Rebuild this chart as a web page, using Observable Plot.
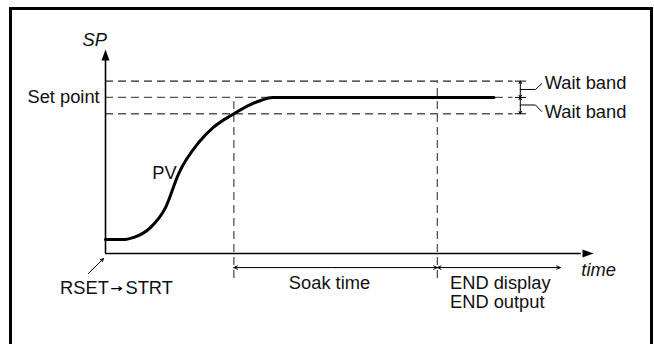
<!DOCTYPE html>
<html><head><meta charset="utf-8">
<script src="https://cdn.jsdelivr.net/npm/d3@7"></script>
<script src="https://cdn.jsdelivr.net/npm/@observablehq/plot@0.6"></script>
<style>
html,body{margin:0;padding:0;background:#fff;}
#wrap{position:relative;width:654px;height:344px;overflow:hidden;}
#wrap svg{position:absolute;left:0;top:0;}
#border{position:absolute;left:9px;top:7px;width:638px;height:400px;border:3px solid #000;pointer-events:none;}
</style></head><body><div id="wrap"></div>
<script>
// ---- data (time units 0..100, SP units 0..100) ----
const setPoint = 76.5;
const waitBand = 8;
const soakStart = 26.3;     // PV enters the lower wait band
const soakEnd = 68;         // end of soak time
const endSpanEnd = 93.2;    // END display / output span
const pvTime  = [0, 4.1, 5.7, 9.2, 12.3, 15.0, 19.1, 22.1, 26.3, 29.7, 31.8, 34.2, 79.6];
const pvValue = [6.9, 6.9, 7.8, 12.7, 22.5, 39.2, 54.4, 61.8, 68.5, 73.0, 75.0, 76.5, 76.5];
const labels = ["SP", "Set point", "PV", "RSET", "STRT", "Soak time", "END display", "END output", "time", "Wait band"];

const pv = pvTime.map((t, i) => ({t, v: pvValue[i]}));
const upper = setPoint + waitBand, lower = setPoint - waitBand;
const levels = [upper, setPoint, lower];

const arrowHead = {draw(ctx) { ctx.moveTo(0, 0); ctx.lineTo(-4, 11); ctx.lineTo(4, 11); ctx.closePath(); }};
const spanY = -6.9;
const spans = [[soakStart, soakEnd], [soakEnd, endSpanEnd]];
const halfArrows = spans.flatMap(([a, b]) => [{x1: (a + b) / 2, x2: a}, {x1: (a + b) / 2, x2: b}]);
const bandArrows = [[setPoint, upper], [lower, setPoint]].flatMap(([a, b]) => [{y1: (a + b) / 2, y2: a}, {y1: (a + b) / 2, y2: b}]);
const leaders = [
  {k: 0, t: 85.2, v: 80.4}, {k: 0, t: 88.1, v: 80.4}, {k: 0, t: 89.4, v: 83.3},
  {k: 1, t: 85.2, v: 72.8}, {k: 1, t: 88.1, v: 72.8}, {k: 1, t: 89.4, v: 69.6}
];

const font = "'Liberation Sans', Arial, Helvetica, sans-serif";
const chart = Plot.plot({
  width: 654, height: 344,
  marginLeft: 105, marginRight: 61, marginTop: 49, marginBottom: 91,
  x: {domain: [0, 100], axis: null},
  y: {domain: [0, 100], axis: null},
  style: {background: "transparent", fontFamily: font, fontSize: "18.3px", color: "#111", overflow: "visible"},
  marks: [
    // wait band / set point dashed levels
    Plot.ruleY([upper], {x1: 0, x2: 83.5, stroke: "#222", strokeDasharray: "8,5", strokeWidth: 1.2}),
    Plot.ruleY([setPoint, lower], {x1: 0, x2: 83.5, stroke: "#555", strokeDasharray: "8,5", strokeWidth: 1.3}),
    // vertical dashed markers
    Plot.ruleX([{t: soakStart, top: setPoint}, {t: soakEnd, top: upper}], {x: "t", y1: -12.3, y2: "top", stroke: "#555", strokeDasharray: "8,5", strokeWidth: 1.3}),
    // axes
    Plot.ruleX([0], {y1: 0, y2: 96, stroke: "#000", strokeWidth: 1.6}),
    Plot.ruleY([0], {x1: 0, x2: 97.5, stroke: "#000", strokeWidth: 1.6}),
    Plot.dot([{t: 0, v: 100}], {x: "t", y: "v", symbol: arrowHead, r: 5, fill: "#000", stroke: null}),
    Plot.dot([{t: 100, v: 0}], {x: "t", y: "v", symbol: arrowHead, r: 5, fill: "#000", stroke: null, rotate: 90}),
    // PV curve
    Plot.line(pv, {x: "t", y: "v", curve: "monotone-x", stroke: "#000", strokeWidth: 3}),
    // soak / END spans
    Plot.arrow(halfArrows, {x1: "x1", x2: "x2", y1: spanY, y2: spanY, stroke: "#000", strokeWidth: 1, headLength: 6, headAngle: 50}),
    // wait band arrows and ticks
    Plot.arrow(bandArrows, {x1: 85, x2: 85, y1: "y1", y2: "y2", stroke: "#000", strokeWidth: 1, headLength: 4, headAngle: 60}),
    Plot.ruleY(levels, {x1: 84, x2: 86.3, stroke: "#000", strokeWidth: 1}),
    Plot.line(leaders, {x: "t", y: "v", z: "k", stroke: "#000", strokeWidth: 1}),
    // RSET pointer and small RSET -> STRT arrow
    Plot.arrow([{x1: -3.5, y1: -9.8, x2: -0.4, y2: -2.5}], {x1: "x1", y1: "y1", x2: "x2", y2: "y2", stroke: "#000", strokeWidth: 1, headLength: 5, headAngle: 50}),
    Plot.arrow([{x1: 1.25, x2: 3.3}], {x1: "x1", x2: "x2", y1: -17.2, y2: -17.2, stroke: "#000", strokeWidth: 1.2, headLength: 4, headAngle: 70}),
    // texts
    Plot.text([labels[0]], {x: -2.2, y: 104.4, text: d => d, fontStyle: "italic", fill: "#111"}),
    Plot.text([labels[1]], {x: -1.2, y: setPoint, text: d => d, textAnchor: "end", fill: "#111"}),
    Plot.text([labels[2]], {x: 12.1, y: 39.2, text: d => d, fill: "#111"}),
    Plot.text([labels[3]], {x: -9.3, y: -17.2, text: d => d, textAnchor: "start", fill: "#111"}),
    Plot.text([labels[4]], {x: 4.1, y: -17.2, text: d => d, textAnchor: "start", fill: "#111"}),
    Plot.text([labels[5]], {x: 45.9, y: -14.7, text: d => d, fill: "#111"}),
    Plot.text([labels[6]], {x: 70.6, y: -14.7, text: d => d, textAnchor: "start", fill: "#111"}),
    Plot.text([labels[7]], {x: 70.6, y: -24, text: d => d, textAnchor: "start", fill: "#111"}),
    Plot.text([labels[8]], {x: 97.5, y: -8.3, text: d => d, textAnchor: "start", fontStyle: "italic", fill: "#111"}),
    Plot.text([labels[9], labels[9]], {x: 90.0, y: (d, i) => i === 0 ? 83.3 : 69.1, text: d => d, textAnchor: "start", fill: "#111"})
  ]
});
const wrap = document.getElementById("wrap");
wrap.appendChild(chart);
const b = document.createElement("div"); b.id = "border"; wrap.appendChild(b);
</script></body></html>
